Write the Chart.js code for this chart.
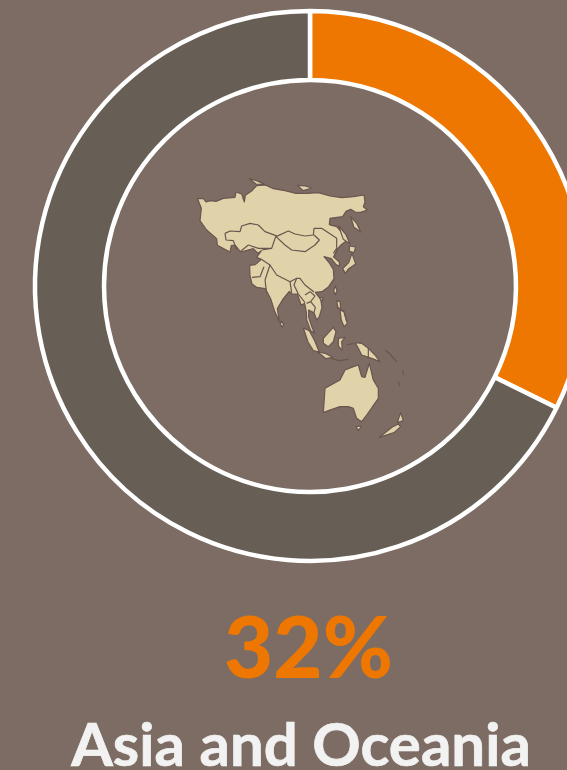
<!DOCTYPE html>
<html lang="en">
<head>
<meta charset="utf-8">
<title>Asia and Oceania</title>
<script src="https://cdn.jsdelivr.net/npm/chart.js@4"></script>
<style>
  html, body { margin: 0; padding: 0; width: 567px; height: 770px; overflow: hidden; background: #7c6c63; }
  body { position: relative; font-family: Lato, sans-serif; font-weight: 700; }
  #donut { position: absolute; left: 0; top: 0; }
  .big { position: absolute; left: 0; width: 617px; top: 592px; text-align: center; font-size: 85px; line-height: 107px; color: #ed7700; font-weight: 900; }
  .name { position: absolute; left: 0; width: 602px; top: 707px; text-align: center; font-size: 60px; line-height: 72px; color: #f2f2f2; white-space: nowrap; -webkit-text-stroke: 0.7px #f2f2f2; }
</style>
</head>
<body>
<canvas id="donut" width="620" height="572"></canvas>
<div class="big" id="bigValue"></div>
<div class="name" id="regionName"></div>
<script>
const regionLabel = 'Asia and Oceania';
const shownPercent = '32%';
const categories = ['Asia and Oceania', 'Rest of world'];
const shares = [32.3, 67.7];

// map outline, in 3x px from (190,170)
const mapLand = [
  // eurasia
  'M22,85 L40,86 L48,96 L62,92 L78,94 L100,85 L135,82 L138,66 L155,72 L163,96 L166,76 L186,62 L200,47 L226,45 L250,56 L285,62 L318,70 L352,70 L385,68 L420,78 L455,83 L490,80 L522,75 L525,96 L520,110 L532,120 L512,127 L496,126 L482,118 L468,124 L458,140 L420,145 L418,164 L440,170 L458,190 L470,212 L452,226 L440,240 L432,262 L448,276 L449,288 L438,284 L424,266 L402,260 L416,276 L430,298 L432,326 L416,350 L396,365 L376,367 L392,388 L396,412 L388,440 L380,450 L372,428 L356,420 L356,442 L366,472 L374,490 L362,482 L350,450 L349,426 L344,400 L334,406 L322,372 L306,372 L298,364 L280,386 L262,416 L268,456 L254,424 L242,386 L226,356 L200,352 L186,342 L180,318 L179,286 L196,284 L214,268 L200,262 L214,242 L204,250 L190,236 L152,246 L136,226 L124,226 L120,246 L82,226 L80,206 L50,180 L30,152 L34,115 Z',
  // novaya zemlya, severnaya
  'M178,26 L200,32 L226,44 L198,42 Z',
  'M322,46 L345,48 L366,54 L340,62 Z',
  // kamchatka
  'M482,140 L500,160 L512,186 L492,172 Z',
  // sakhalin
  'M446,168 L468,194 L480,222 L460,208 Z',
  // japan
  'M478,228 L497,231 L492,248 L478,244 Z',
  'M486,250 L497,282 L476,296 L466,310 L458,296 L476,278 Z',
  // taiwan, hainan, sri lanka
  'M436,348 L441,362 L436,374 L431,362 Z',
  'M389,384 L399,382 L397,394 Z',
  'M273,453 L281,462 L277,472 L271,462 Z',
  // sumatra, java, borneo, sulawesi
  'M340,474 L358,482 L374,512 L388,546 L370,542 L354,516 Z',
  'M383,546 L405,550 L428,562 L408,566 Z',
  'M400,505 L430,472 L438,485 L430,515 L415,530 L400,520 Z',
  'M445,505 L465,502 L455,515 L457,542 L445,528 Z',
  // philippines
  'M440,392 L450,395 L452,415 L444,415 Z',
  'M450,420 L462,425 L472,460 L462,470 L454,450 Z',
  // new guinea
  'M495,518 L515,520 L535,535 L555,555 L570,575 L545,565 L515,555 L505,535 Z',
  // australia
  'M400,728 L405,655 L450,630 L465,600 L490,590 L505,585 L515,620 L525,622 L538,580 L550,630 L565,655 L565,685 L530,735 L515,755 L500,745 L490,715 L475,710 L450,710 L415,722 Z',
  // tasmania, new zealand
  'M498,770 L515,768 L505,782 Z',
  'M568,802 L606,772 L625,762 L632,770 L612,788 Z',
  'M622,758 L640,752 L632,728 L626,745 Z'
];
const mapBorders = [
  'M105,190 L120,183 L150,185 L155,168 L180,160 L205,165 L225,185 L258,197 L245,235 L215,240',
  'M105,190 L108,210 L130,212 L140,240',
  'M152,244 L175,225 L205,235 L245,235',
  'M258,200 L295,183 L315,192 L345,198 L370,195 L372,175 L395,175 L440,205 L440,235 L430,250',
  'M258,200 L285,225 L305,240 L345,245 L375,225 L388,210 L372,195',
  'M214,268 L240,285 L260,315 L300,335 L320,325 L330,325 L345,345 L372,366',
  'M240,285 L225,330 L230,370',
  'M186,322 L210,320 L222,290',
  'M300,335 L305,368',
  'M320,325 L312,345 L325,372 L345,398',
  'M345,375 L360,365 L375,378 L362,395 L376,412 L372,428',
  'M362,395 L350,400',
  'M535,535 L535,565',
  'M430,262 L442,240',
  // lesser sunda and pacific islands
  'M425,565 L445,572 L475,568',
  'M585,540 L600,552 L620,575',
  'M638,600 L640,615',
  'M625,635 L630,648',
  'M440,410 L462,425 L470,455',
  'M470,525 L490,520'
];

const mapPlugin = {
  id: 'regionMap',
  afterDatasetsDraw(chart) {
    const ctx = chart.ctx;
    ctx.save();
    ctx.translate(190, 170);
    ctx.scale(1 / 3, 1 / 3);
    ctx.lineJoin = 'round';
    ctx.lineWidth = 3.6;
    ctx.strokeStyle = '#6c5450';
    ctx.fillStyle = '#e0d3a9';
    mapLand.forEach((d) => {
      const p = new Path2D(d);
      ctx.fill(p);
      ctx.stroke(p);
    });
    mapBorders.forEach((d) => ctx.stroke(new Path2D(d)));
    ctx.restore();
  },
};

document.getElementById('bigValue').textContent = shownPercent;
document.getElementById('regionName').textContent = regionLabel;

new Chart(document.getElementById('donut'), {
  type: 'doughnut',
  data: {
    labels: categories,
    datasets: [{
      data: shares,
      backgroundColor: ['#ed7700', '#675e55'],
      borderColor: '#ffffff',
      borderWidth: 4.5,
      borderAlign: 'center',
    }],
  },
  options: {
    responsive: false,
    animation: false,
    radius: 275,
    cutout: '74.9%',
    layout: { padding: 0 },
    plugins: { legend: { display: false }, tooltip: { enabled: false } },
  },
  plugins: [mapPlugin],
});
</script>
</body>
</html>
